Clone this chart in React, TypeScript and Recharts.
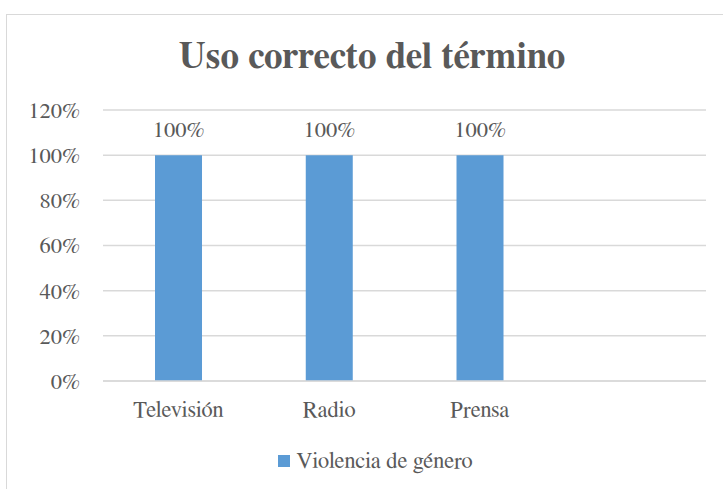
import React from 'react';
import { BarChart, Bar, XAxis, YAxis, CartesianGrid, Legend, LabelList, Customized } from 'recharts';

const categories = ['Televisión', 'Radio', 'Prensa', ''];
const violenciaDeGenero = [1, 1, 1, null];
const yTicks = [0, 0.2, 0.4, 0.6, 0.8, 1.0, 1.2];
const seriesName = 'Violencia de género';
const titleText = 'Uso correcto del término';

const data = categories.map((c, i) => ({ name: c, value: violenciaDeGenero[i] }));

const FONT = 'FreeSerif, "Liberation Serif", "Times New Roman", Tinos, serif';
const TEXT = '#595959';
const GRID = '#D9D9D9';
const BLUE = '#5B9BD5';

const pct = (v: number) => `${Math.round(v * 100)}%`;

const LegendContent = (props: any) => {
  const payload = props.payload || [];
  return (
    <div
      style={{
        display: 'flex',
        justifyContent: 'center',
        alignItems: 'center',
        height: 40,
        paddingLeft: 45,
        fontFamily: FONT,
        fontSize: 22.5,
        color: TEXT,
      }}
    >
      {payload.map((p: any, i: number) => (
        <span key={i} style={{ display: 'inline-flex', alignItems: 'center' }}>
          <span style={{ display: 'inline-block', width: 12, height: 12, background: p.color, marginRight: 6 }} />
          <span>{p.value}</span>
        </span>
      ))}
    </div>
  );
};

export default function App() {
  return (
    <div style={{ position: 'absolute', left: 0, top: 0, width: 723, height: 489, overflow: 'hidden', background: '#fff', fontFamily: FONT }}>
      <div
        style={{
          position: 'absolute',
          left: 6,
          top: 14,
          width: 800,
          height: 600,
          border: `1.5px solid ${GRID}`,
          boxSizing: 'border-box',
        }}
      />
      <div style={{ position: 'absolute', left: 0, top: 0 }}>
        <BarChart
          width={723}
          height={489}
          data={data}
          margin={{ top: 110, right: 17, left: 0, bottom: 8 }}
          barCategoryGap="34.5%"
          style={{ fontFamily: FONT }}
        >
          <CartesianGrid vertical={false} stroke={GRID} strokeWidth={1.5} />
          <XAxis
            dataKey="name"
            height={60}
            axisLine={{ stroke: GRID, strokeWidth: 1.5 }}
            tickLine={false}
            tickSize={0}
            tickMargin={20}
            tick={{ fill: TEXT, fontFamily: FONT, fontSize: 22.5 }}
            interval={0}
          />
          <YAxis
            width={103}
            domain={[0, 1.2]}
            ticks={yTicks}
            tickFormatter={pct}
            axisLine={false}
            tickLine={false}
            tickSize={0}
            tickMargin={23}
            tick={{ fill: TEXT, fontFamily: FONT, fontSize: 22.5 }}
            interval={0}
          />
          <Legend verticalAlign="bottom" content={<LegendContent />} />
          <Bar dataKey="value" name={seriesName} fill={BLUE} isAnimationActive={false}>
            <LabelList
              dataKey="value"
              position="top"
              offset={18}
              formatter={(v: any) => (v == null ? '' : pct(v))}
              fill={TEXT}
              fontFamily={FONT}
              fontSize={22.5}
            />
          </Bar>
          <Customized
            component={() => (
              <text
                x={372}
                y={68}
                textAnchor="middle"
                fill={TEXT}
                fontFamily={FONT}
                fontSize={37}
                fontWeight="bold"
              >
                {titleText}
              </text>
            )}
          />
        </BarChart>
      </div>
    </div>
  );
}
